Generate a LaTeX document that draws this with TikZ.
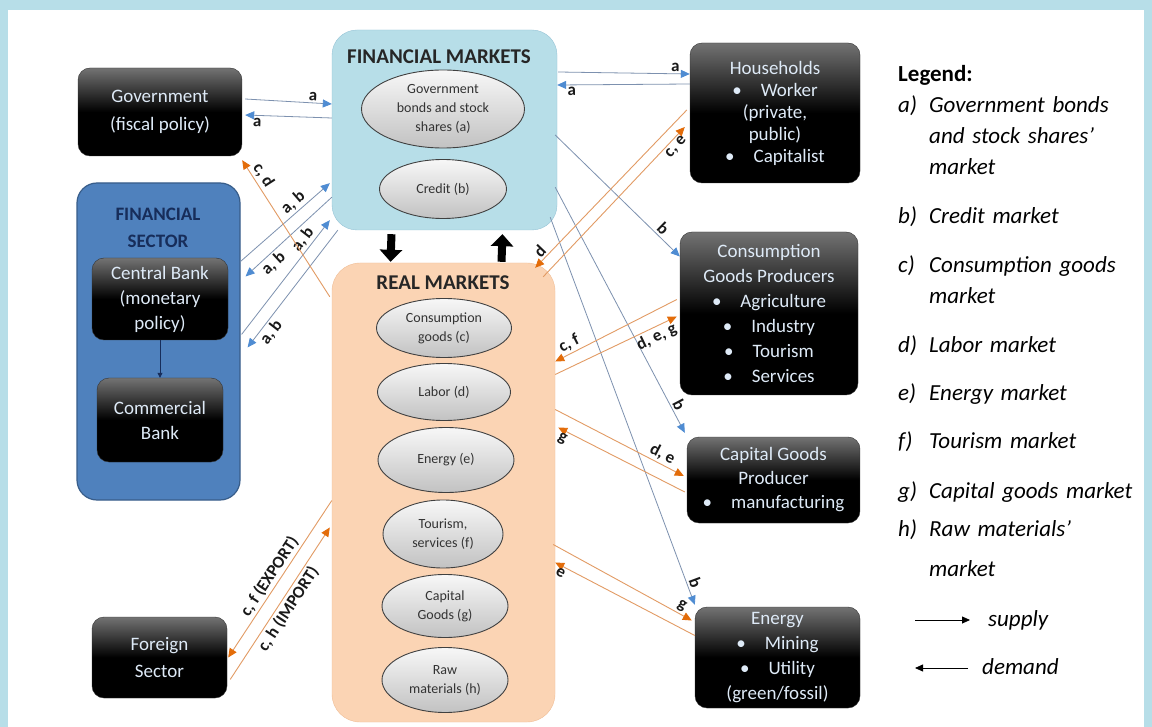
\documentclass[tikz,border=0pt]{standalone}
\usepackage{fontspec}
\setmainfont{Carlito}
\usetikzlibrary{arrows.meta,calc,shapes.geometric}
\definecolor{framebg}{RGB}{183,222,232}
\definecolor{fmfill}{RGB}{183,222,232}
\definecolor{fmline}{RGB}{150,196,214}
\definecolor{rmfill}{RGB}{251,212,180}
\definecolor{rmline}{RGB}{240,190,150}
\definecolor{fsfill}{RGB}{79,129,189}
\definecolor{fsline}{RGB}{56,93,138}
\definecolor{fstext}{RGB}{23,45,90}
\definecolor{boxtext}{RGB}{222,234,247}
\definecolor{bluetip}{RGB}{79,140,210}
\definecolor{blueline}{RGB}{125,145,175}
\definecolor{orangetip}{RGB}{227,108,9}
\definecolor{orangeline}{RGB}{226,155,100}

\begin{document}
\begin{tikzpicture}[x=1pt,y=-1pt,
  blackbox/.style={rounded corners=12pt,draw=black!80,top color=black!55,bottom color=black,middle color=black,
    text=boxtext,align=center,inner sep=0pt,font=\fontsize{19}{25}\selectfont},
  mkt/.style={ellipse,draw=black!75,line width=0.9pt,top color=black!3,bottom color=black!24,
    text=black!80,align=center,inner sep=0pt,font=\fontsize{14}{19}\selectfont},
  headtxt/.style={text=black!85,align=center,font=\fontsize{21}{26}\selectfont\bfseries},
  lab/.style={sloped,text=black!90,inner sep=2pt,font=\fontsize{17}{17}\selectfont\bfseries},
  bluearr/.style={blueline,line width=0.8pt,-{Triangle[length=9pt,width=8pt,color=bluetip]}},
  orarr/.style={orangeline,line width=0.9pt,-{Triangle[length=9pt,width=8pt,color=orangetip]}},
  blockarr/.style={black,line width=8pt,-{Triangle[length=12pt,width=22pt]}},
  legkey/.style={anchor=base west,inner sep=0pt,font=\fontsize{23}{31}\selectfont\itshape},
  legtxt/.style={anchor=base west,inner sep=0pt,text width=210pt,align=left,font=\fontsize{23}{31}\selectfont\itshape}]

% frame
\fill[framebg] (0,0) rectangle (1152,727);
\fill[white] (8,10) rectangle (1144,727);

% left side
\node[blackbox,minimum width=164pt,minimum height=88pt,font=\fontsize{19}{28}\selectfont] (gov) at (160,112) {Government\\(fiscal policy)};
\node[draw=fsline,line width=1.2pt,fill=fsfill,rounded corners=20pt,minimum width=163pt,minimum height=317pt] (fs) at (158.5,341.5) {};
\node[text=fstext,align=center,font=\fontsize{19}{27}\selectfont\bfseries] (fstitle) at (158,228) {FINANCIAL\\SECTOR};
\node[blackbox,minimum width=136pt,minimum height=82pt] (cb) at (160,299) {Central Bank\\(monetary\\policy)};
\node[blackbox,minimum width=126pt,minimum height=84pt] (comb) at (160,420) {Commercial\\Bank};
\node[blackbox,minimum width=135pt,minimum height=81pt,font=\fontsize{19}{27}\selectfont] (fore) at (159.5,657.5) {Foreign\\Sector};
\draw[fstext,line width=0.8pt,-{Triangle[length=5pt,width=5pt]}] (cb) -- (comb);

% markets
\node[draw=fmline,fill=fmfill,rounded corners=25pt,minimum width=225pt,minimum height=200pt] (fm) at (444.5,130) {};
\node[headtxt] (fmtitle) at (439,57) {FINANCIAL MARKETS};
\node[mkt,minimum width=163pt,minimum height=78pt] (bonds) at (443,109) {Government\\bonds and stock\\shares (a)};
\node[mkt,minimum width=127pt,minimum height=59pt] (credit) at (443,189) {Credit (b)};

\node[draw=rmline,fill=rmfill,rounded corners=28pt,minimum width=223pt,minimum height=459pt] (rm) at (443.5,492.5) {};
\node[headtxt] (rmtitle) at (443,283) {REAL MARKETS};
\node[mkt,minimum width=135pt,minimum height=59pt] (cons) at (444,328) {Consumption\\goods (c)};
\node[mkt,minimum width=133pt,minimum height=57pt] (labor) at (444,392) {Labor (d)};
\node[mkt,minimum width=136pt,minimum height=65pt] (energy) at (446,460) {Energy (e)};
\node[mkt,minimum width=120pt,minimum height=68pt] (tour) at (443,534) {Tourism,\\services (f)};
\node[mkt,minimum width=126pt,minimum height=63pt] (capg) at (445,606) {Capital\\Goods (g)};
\node[mkt,minimum width=126pt,minimum height=65pt] (raw) at (445,680) {Raw\\materials (h)};

\draw[blockarr] ($(fm.south)+(-53,4)$) -- ($(rm.north)+(-53,-1)$);
\draw[blockarr] ($(rm.north)+(58,-1)$) -- ($(fm.south)+(58,4)$);

% right side
\node[blackbox,minimum width=170pt,minimum height=140pt,font=\fontsize{19}{22}\selectfont] (hh) at (775,113) {Households\\\textbullet\quad Worker\\(private,\\public)\\\textbullet\quad Capitalist};
\node[blackbox,minimum width=178pt,minimum height=163pt] (cgp) at (769,313.5) {Consumption\\Goods Producers\\\textbullet\quad Agriculture\\\textbullet\quad Industry\\\textbullet\quad Tourism\\\textbullet\quad Services};
\node[blackbox,minimum width=173pt,minimum height=86pt,font=\fontsize{19}{24}\selectfont] (cap) at (773.5,480) {Capital Goods\\Producer\\\textbullet\quad manufacturing};
\node[blackbox,minimum width=165pt,minimum height=101pt] (en) at (777.5,657.5) {Energy\\\textbullet\quad Mining\\\textbullet\quad Utility\\(green/fossil)};

% financial flows
\draw[bluearr] ($(gov.east)+(3,-13)$) -- node[lab,pos=.78,above] {a} ($(fm.west)+(0,-26)$);
\draw[bluearr] ($(fm.west)+(0,-12)$) -- node[lab,pos=.86,below] {a} ($(gov.east)+(3,3)$);
\draw[bluearr] ($(fm.east)+(1,-58)$) -- node[lab,pos=.89,above] {a} ($(hh.west)+(0,-39)$);
\draw[bluearr] ($(hh.west)+(0,-29)$) -- node[lab,pos=.89,below] {a} ($(fm.east)+(0,-45)$);
\draw[bluearr] ($(fs.north east)+(0,79)$) -- node[lab,pos=.66,above] {a, b} ($(fm.south west)+(-2,-47)$);
\draw[bluearr] ($(fm.south west)+(0,-33)$) -- node[lab,pos=.75,below] {a, b} ($(fs.north east)+(5,94)$);
\draw[bluearr] ($(fs.north east)+(1,152)$) -- node[lab,pos=.78,above] {a, b} ($(fm.south west)+(-2,-10)$);
\draw[bluearr] ($(fm.south west)+(6,0)$) -- node[lab,pos=.82,below] {a, b} ($(fs.north east)+(7,165)$);
\draw[bluearr] ($(fm.east)+(-2,5)$) -- node[lab,pos=.82,above] {b} ($(cgp.west)+(0,-57)$);
\draw[bluearr] ($(fm.south east)+(-2,-43)$) -- node[lab,pos=.9,above] {b} ($(cap.north west)+(-2,-4)$);
\draw[bluearr] ($(fm.south east)+(-7,-13)$) -- node[lab,pos=.95,above] {b} ($(en.north west)+(0,-2)$);

% real flows
\draw[orarr] ($(rm.north west)+(-2,34)$) -- node[lab,pos=.85,above] {c, d} ($(gov.south east)+(0,4)$);
\draw[orarr] ($(hh.west)+(-3,-3)$) -- node[lab,pos=.93,above] {d} ($(rm.north east)+(-20,5)$);
\draw[orarr] ($(rm.north east)+(-12,14)$) -- node[lab,pos=.9,below] {c, e} ($(hh.west)+(-5,14)$);
\draw[orarr] ($(cgp.west)+(-3,-14)$) -- node[lab,pos=.85,above] {c, f} ($(rm.east)+(0,-131)$);
\draw[orarr] ($(rm.east)+(0,-118)$) -- node[lab,pos=.8,below] {d, e, g} ($(cgp.west)+(-3,3)$);
\draw[orarr] ($(rm.east)+(0,-83)$) -- node[lab,pos=.8,above] {d, e} ($(cap.west)+(-3,-4)$);
\draw[orarr] ($(cap.west)+(-2,12)$) -- node[lab,pos=.94,below] {g} ($(rm.east)+(3,-65)$);
\draw[orarr] ($(rm.east)+(-2,52)$) -- node[lab,pos=.9,above] {g} ($(en.west)+(-3,-37)$);
\draw[orarr] ($(en.west)+(0,-22)$) -- node[lab,pos=.94,below] {e} ($(rm.east)+(0,70)$);
\draw[orarr] ($(rm.west)+(0,8)$) -- node[lab,pos=.52,above] {c, f (EXPORT)} ($(fore.east)+(1,0)$);
\draw[orarr] ($(fore.east)+(3,22)$) -- node[lab,pos=.5,below] {c, h (IMPORT)} ($(rm.west)+(-2,35)$);

% legend
\node[legkey,font=\fontsize{23}{31}\selectfont\bfseries] (leg) at (898,82) {Legend:};
\node[legkey] (ka) at (898,113) {a)};
\node[legtxt] (ta) at (929,113) {Government bonds\\and stock shares’\\market};
\node[legkey] (kb) at (898,224) {b)};
\node[legtxt] (tb) at (929,224) {Credit market};
\node[legkey] (kc) at (898,273) {c)};
\node[legtxt] (tc) at (929,273) {Consumption goods\\market};
\node[legkey] (kd) at (898,353) {d)};
\node[legtxt] (td) at (929,353) {Labor market};
\node[legkey] (ke) at (898,401) {e)};
\node[legtxt] (te) at (929,401) {Energy market};
\node[legkey] (kf) at (898,449) {f)};
\node[legtxt] (tf) at (929,449) {Tourism market};
\node[legkey] (kg) at (898,498) {g)};
\node[legtxt] (tg) at (929,498) {Capital goods market};
\node[legkey] (kh) at (898,536) {h)};
\node[legtxt,font=\fontsize{23}{40}\selectfont\itshape] (th) at (929,536) {Raw materials’\\market};
\node[legkey] (supply) at (988,626) {supply};
\node[legkey] (demand) at (982,674) {demand};
\coordinate (supL) at (915,620);
\coordinate (demR) at (968,668);
\draw[line width=0.8pt,-{Triangle[length=8pt,width=7pt]}] (supL) -- (supL -| {$(supply.west)+(-18,0)$});
\draw[line width=0.8pt,-{Triangle[length=8pt,width=7pt]}] (demR) -- ($(demR)+(-53,0)$);
\end{tikzpicture}
\end{document}
